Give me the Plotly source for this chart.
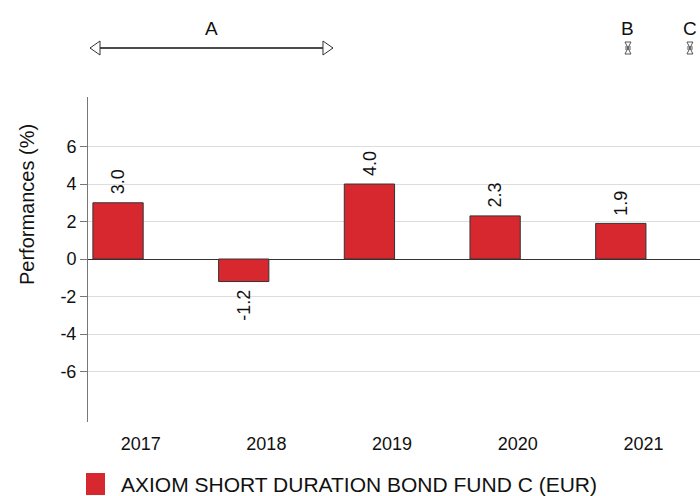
import plotly.graph_objects as go

years = ["2017", "2018", "2019", "2020", "2021"]
perf = [3.0, -1.2, 4.0, 2.3, 1.9]
series_name = "AXIOM SHORT DURATION BOND FUND C (EUR)"
y_title = "Performances (%)"
y_ticks = [-6, -4, -2, 0, 2, 4, 6]

# period annotations on top (in category-index units)
event_labels = ["A", "B", "C"]
event_start = [-0.223, 4.057, 4.55]
event_end = [1.71, 4.057, 4.55]

RED = "#d7282f"
FONT = "Liberation Sans, Arial, sans-serif"
idx = list(range(len(years)))

fig = go.Figure()
fig.add_trace(go.Bar(
    x=idx, y=perf, width=0.4, marker=dict(color=RED, line=dict(color="#333333", width=1)),
    showlegend=False, hoverinfo="skip"))

for i, v in zip(idx, perf):
    fig.add_annotation(x=i, y=v, text=f"{v:.1f}", textangle=-90, showarrow=False,
                       yanchor="bottom" if v >= 0 else "top",
                       yshift=6 if v >= 0 else -6,
                       font=dict(size=18, color="#111111", family=FONT))

# top period markers (paper y above plot area; plot area spans 325 px)
y_line = (422 - 48) / 325
y_text = (422 - 29) / 325
for lab, s, e in zip(event_labels, event_start, event_end):
    fig.add_annotation(x=(s + e) / 2, xref="x", y=y_text, yref="paper", text=lab,
                       showarrow=False, yanchor="middle",
                       font=dict(size=19, color="#111111", family=FONT))
    if e > s:
        fig.add_shape(type="line", xref="x", yref="paper", x0=s, x1=e, y0=y_line, y1=y_line,
                      line=dict(color="#111111", width=1.5))
        fig.add_shape(type="path", xref="x", yref="paper", xsizemode="pixel", ysizemode="pixel",
                      xanchor=s, yanchor=y_line, path="M0,0 L10,7 L10,-7 Z",
                      fillcolor="white", line=dict(color="#333333", width=1))
        fig.add_shape(type="path", xref="x", yref="paper", xsizemode="pixel", ysizemode="pixel",
                      xanchor=e, yanchor=y_line, path="M0,0 L-10,7 L-10,-7 Z",
                      fillcolor="white", line=dict(color="#333333", width=1))
    else:
        fig.add_shape(type="path", xref="x", yref="paper", xsizemode="pixel", ysizemode="pixel",
                      xanchor=s, yanchor=y_line,
                      path="M-3,-6 L3,6 M3,-6 L-3,6 M-3,-6 L3,-6 M-3,6 L3,6 M-3,-1 L3,-1 M-3,1 L3,1",
                      line=dict(color="#555555", width=1))

# y-axis title (placed as in the reference, above the axis centre)
fig.add_annotation(xref="paper", yref="paper", x=(26.5 - 88) / 612, y=(422 - 204.5) / 325,
                   text=y_title, textangle=-90, showarrow=False,
                   xanchor="center", yanchor="middle",
                   font=dict(size=20, color="#111111", family=FONT))

# legend (manual)
fig.add_shape(type="rect", xref="paper", yref="paper", x0=-2 / 612, x1=17 / 612,
              y0=(422 - 495) / 325, y1=(422 - 473) / 325, fillcolor=RED, line=dict(width=0))
fig.add_annotation(xref="paper", yref="paper", x=31 / 612, y=(422 - 484) / 325, text=series_name,
                   showarrow=False, xanchor="left", yanchor="middle",
                   font=dict(size=21, color="#111111", family=FONT))

fig.update_layout(
    width=700, height=496,
    margin=dict(l=88, r=0, t=97, b=74),
    paper_bgcolor="white", plot_bgcolor="white",
    font=dict(family=FONT, color="#111111"),
    xaxis=dict(tickvals=[i + 0.18 for i in idx], ticktext=years, range=[-0.239, 4.63],
               showgrid=False, zeroline=False, showline=False, ticks="",
               tickfont=dict(size=18), automargin=False, ticklabelstandoff=9),
    yaxis=dict(range=[-8.69, 8.64], tickvals=y_ticks, ticktext=[str(t) for t in y_ticks],
               showgrid=True, gridcolor="#dddddd",
               gridwidth=1, zeroline=True, zerolinecolor="#333333", zerolinewidth=1,
               showline=True, linecolor="#777777", linewidth=1, ticks="outside",
               ticklen=7, tickcolor="#777777", tickfont=dict(size=18), automargin=False),
)

fig.write_html("out.html", config={"displayModeBar": False},
               post_script="document.body.style.margin='0px';")
